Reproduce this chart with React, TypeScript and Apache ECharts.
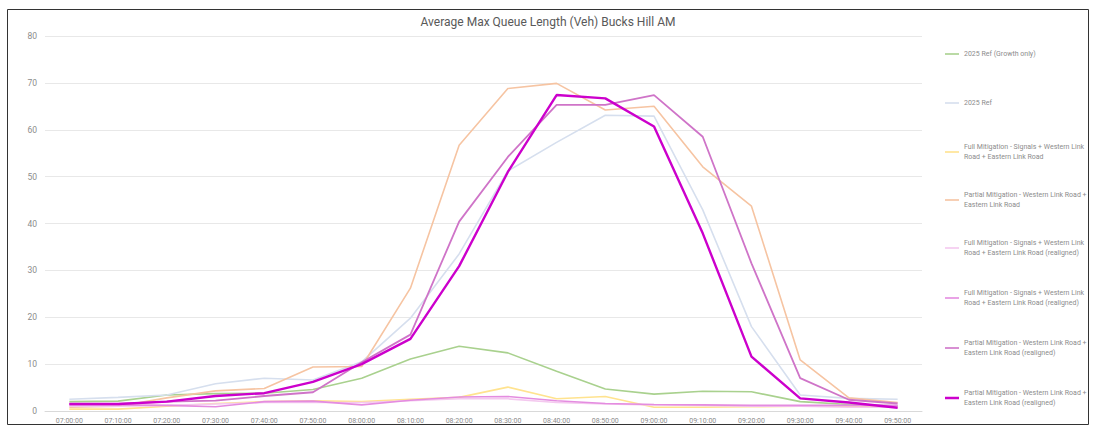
import React, { useEffect, useRef } from 'react';
import * as echarts from 'echarts';

const categories = [
  '07:00:00', '07:10:00', '07:20:00', '07:30:00', '07:40:00', '07:50:00',
  '08:00:00', '08:10:00', '08:20:00', '08:30:00', '08:40:00', '08:50:00',
  '09:00:00', '09:10:00', '09:20:00', '09:30:00', '09:40:00', '09:50:00',
];

const ref2025Growth = [2.0, 2.1, 3.4, 3.7, 3.8, 4.6, 7.0, 11.1, 13.8, 12.4, 8.5, 4.7, 3.6, 4.2, 4.1, 2.0, 1.4, 1.1];
const ref2025 = [2.5, 2.9, 3.4, 5.8, 7.0, 6.6, 10.5, 19.8, 33.5, 51.2, 57.3, 63.1, 62.9, 42.9, 18.0, 3.4, 2.7, 2.5];
const fullMitigation = [0.4, 0.4, 1.0, 1.6, 2.0, 2.2, 2.0, 2.5, 2.9, 5.1, 2.6, 3.1, 0.8, 0.8, 0.9, 1.0, 1.0, 0.8];
const partialMitigation = [0.8, 1.0, 2.8, 4.3, 4.8, 9.4, 9.5, 26.2, 56.7, 68.8, 69.9, 64.2, 65.0, 52.1, 43.7, 10.9, 2.8, 1.8];
const fullMitigationRealignedA = [1.0, 1.0, 1.2, 1.5, 1.8, 1.8, 1.8, 2.2, 2.6, 2.6, 1.8, 1.5, 1.3, 1.2, 1.0, 1.0, 0.8, 0.8];
const fullMitigationRealignedB = [1.3, 1.3, 1.2, 0.9, 2.0, 2.1, 1.3, 2.3, 3.0, 3.1, 2.2, 1.6, 1.4, 1.3, 1.2, 1.2, 1.2, 1.2];
const partialMitigationRealignedA = [1.5, 1.5, 2.0, 2.2, 3.2, 4.0, 10.4, 16.3, 40.4, 54.2, 65.3, 65.3, 67.4, 58.5, 31.5, 7.0, 2.4, 1.6];
const partialMitigationRealignedB = [1.5, 1.5, 2.0, 3.2, 3.8, 6.2, 10.0, 15.4, 30.9, 51.0, 67.4, 66.7, 60.7, 37.9, 11.6, 2.7, 1.8, 0.7];

const seriesLabels = [
  '2025 Ref (Growth only)',
  '2025 Ref',
  'Full Mitigation - Signals + Western Link\nRoad + Eastern Link Road',
  'Partial Mitigation - Western Link Road +\nEastern Link Road',
  'Full Mitigation - Signals + Western Link\nRoad + Eastern Link Road (realigned)',
  'Full Mitigation - Signals + Western Link\nRoad + Eastern Link Road (realigned)',
  'Partial Mitigation - Western Link Road +\nEastern Link Road (realigned)',
  'Partial Mitigation - Western Link Road +\nEastern Link Road (realigned)',
];

const seriesData = [
  ref2025Growth, ref2025, fullMitigation, partialMitigation,
  fullMitigationRealignedA, fullMitigationRealignedB,
  partialMitigationRealignedA, partialMitigationRealignedB,
];

const colors = ['#a9d18e', '#d6dfee', '#ffe38f', '#f6c4a2', '#f4c9ef', '#e48ce0', '#cf74c8', '#cc00cc'];
const widths = [1.6, 1.6, 1.6, 1.6, 1.6, 1.6, 1.8, 2.4];
const legendTops = [44, 93, 132, 180, 228, 278, 328, 378];

const FONT = 'Roboto, "Noto Sans", sans-serif';

export default function App() {
  const ref = useRef<HTMLDivElement>(null);
  useEffect(() => {
    if (!ref.current) return;
    const chart = echarts.init(ref.current, null, { renderer: 'svg' });
    const keys = seriesLabels.map((_, i) => 's' + i);
    const option = {
      animation: false,
      backgroundColor: '#ffffff',
      textStyle: { fontFamily: FONT },
      title: {
        text: 'Average Max Queue Length (Veh) Bucks Hill AM',
        left: 'center',
        top: 16,
        padding: 0,
        textStyle: { fontSize: 12, color: '#595959', fontWeight: 'normal', fontFamily: FONT },
      },
      grid: { left: 45, right: 174, top: 36, bottom: 22 },
      xAxis: {
        type: 'category',
        data: categories,
        boundaryGap: true,
        axisLine: { lineStyle: { color: '#d9d9d9' } },
        axisTick: { show: false },
        axisLabel: { interval: 0, fontSize: 7, color: '#8c8c8c', margin: 6, fontFamily: FONT },
      },
      yAxis: {
        type: 'value',
        min: 0,
        max: 80,
        interval: 10,
        axisLine: { show: false },
        axisTick: { show: false },
        axisLabel: { fontSize: 8.5, color: '#8c8c8c', margin: 8, fontFamily: FONT },
        splitLine: { lineStyle: { color: '#e8e8e8' } },
      },
      legend: keys.map((k, i) => ({
        left: 940,
        top: legendTops[i],
        orient: 'vertical',
        data: [k],
        icon: 'rect',
        itemWidth: 14,
        itemHeight: i === 7 ? 2.5 : 1.6,
        itemStyle: { color: colors[i], borderWidth: 0 },
        selectedMode: false,
        formatter: () => seriesLabels[i],
        textStyle: {
          fontSize: 7,
          color: '#8c8c8c',
          lineHeight: 10,
          fontFamily: FONT,
          padding: seriesLabels[i].includes('\n') ? [10, 0, 0, 0] : 0,
        },
      })),
      series: keys.map((k, i) => ({
        name: k,
        type: 'line',
        data: seriesData[i],
        symbol: 'none',
        showSymbol: false,
        lineStyle: { color: colors[i], width: widths[i] },
        itemStyle: { color: colors[i] },
      })),
      graphic: [
        {
          type: 'rect',
          shape: { x: 7.5, y: 9.5, width: 1081, height: 415 },
          style: { fill: 'none', stroke: '#333333', lineWidth: 1 },
          silent: true,
        },
      ],
    };
    chart.setOption(option as any);
    return () => chart.dispose();
  }, []);
  return (
    <div
      ref={ref}
      style={{ position: 'fixed', left: 0, top: 0, width: 1096, height: 433, background: '#ffffff' }}
    />
  );
}
